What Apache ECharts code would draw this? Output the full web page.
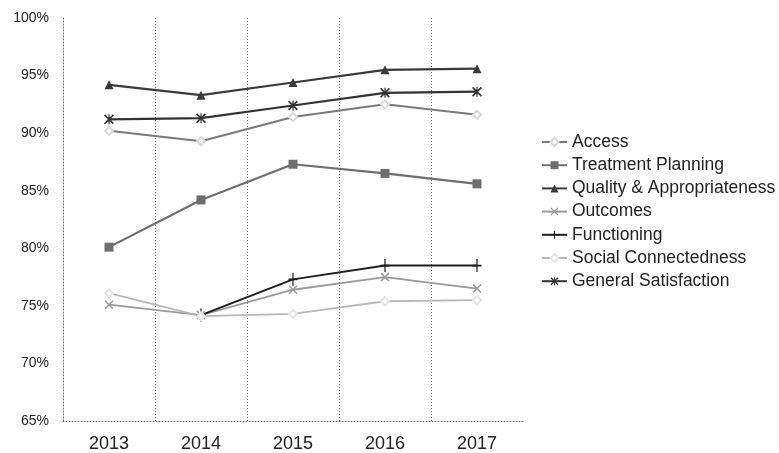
<!DOCTYPE html>
<html>
<head>
<meta charset="utf-8">
<script src="https://cdn.jsdelivr.net/npm/echarts@6/dist/echarts.min.js"></script>
<style>
html,body{margin:0;padding:0;background:#fff;}
#chart{width:779px;height:453px;}
</style>
</head>
<body>
<div id="chart"></div>
<script>
var categories = ['2013', '2014', '2015', '2016', '2017'];
var yTicks = [65, 70, 75, 80, 85, 90, 95, 100];
var access = [90.2, 89.3, 91.4, 92.5, 91.6];
var treatmentPlanning = [80.1, 84.2, 87.3, 86.5, 85.6];
var qualityAppropriateness = [94.2, 93.3, 94.4, 95.5, 95.6];
var outcomes = [75.1, 74.2, 76.4, 77.5, 76.5];
var functioning = [null, 74.2, 77.3, 78.5, 78.5];
var socialConnectedness = [76.1, 74.1, 74.3, 75.4, 75.5];
var generalSatisfaction = [91.2, 91.3, 92.4, 93.5, 93.6];

var X_PATH = 'path://M0,1.2L1.2,0L5,3.8L8.8,0L10,1.2L6.2,5L10,8.8L8.8,10L5,6.2L1.2,10L0,8.8L3.8,5Z';
var PLUS_PATH = 'path://M4.3,0H5.7V4.3H10V5.7H5.7V10H4.3V5.7H0V4.3H4.3Z';
var AST_PATH = 'path://M0,1.2L1.2,0L5,3.8L8.8,0L10,1.2L6.2,5L10,8.8L8.8,10L5,6.2L1.2,10L0,8.8L3.8,5Z M4.4,0H5.6V10H4.4Z';

function mk(name, data, color, symbol, size, lw, extra) {
  var s = {
    name: name,
    type: 'line',
    data: data,
    symbol: symbol,
    symbolSize: size,
    showAllSymbol: true,
    connectNulls: false,
    lineStyle: { color: color, width: lw },
    itemStyle: { color: color, borderColor: color, borderWidth: 0 },
    emphasis: { disabled: true },
    animation: false
  };
  if (extra) { for (var k in extra) s[k] = extra[k]; }
  return s;
}

var dotted = { color: '#666', type: [1, 2], width: 1 };

var chart = echarts.init(document.getElementById('chart'), null, { renderer: 'canvas' });
chart.setOption({
  backgroundColor: '#ffffff',
  animation: false,
  textStyle: { fontFamily: 'Liberation Sans, Arial, sans-serif' },
  grid: { left: 63, right: 256, top: 18, bottom: 32, containLabel: false },
  legend: {
    orient: 'vertical',
    left: 536,
    top: 128,
    itemWidth: 25,
    itemHeight: 10,
    itemGap: 5.2,
    textStyle: { fontSize: 17.5, color: '#222', fontFamily: 'Liberation Sans, Arial, sans-serif', lineHeight: 18 },
    data: ['Access', 'Treatment Planning', 'Quality & Appropriateness', 'Outcomes', 'Functioning', 'Social Connectedness', 'General Satisfaction']
  },
  xAxis: {
    type: 'category',
    data: categories,
    boundaryGap: true,
    axisLine: { show: true, lineStyle: dotted },
    axisTick: { show: false },
    axisLabel: { fontSize: 18, color: '#222', margin: 14, fontFamily: 'Liberation Sans, Arial, sans-serif' },
    splitLine: { show: true, showMinLine: false, showMaxLine: false, lineStyle: dotted }
  },
  yAxis: {
    type: 'value',
    min: yTicks[0],
    max: yTicks[yTicks.length - 1],
    interval: 5,
    axisLine: { show: true, lineStyle: dotted },
    axisTick: { show: false },
    splitLine: { show: false },
    axisLabel: { fontSize: 14, color: '#222', margin: 14, formatter: '{value}%', padding: [0, 0, 5, 0], fontFamily: 'Liberation Sans, Arial, sans-serif' }
  },
  series: [
    mk('Access', access, '#7a7a7a', 'emptyDiamond', 8, 2, { itemStyle: { color: '#d8d8d8', borderColor: '#6a6a6a', borderWidth: 1.5 } }),
    mk('Treatment Planning', treatmentPlanning, '#6e6e6e', 'rect', 9, 2.2),
    mk('Quality & Appropriateness', qualityAppropriateness, '#3a3a3a', 'triangle', 9, 2.2),
    mk('Outcomes', outcomes, '#9a9a9a', X_PATH, 9, 1.8),
    mk('Functioning', functioning, '#1e1e1e', PLUS_PATH, [9, 13], 2),
    mk('Social Connectedness', socialConnectedness, '#b8b8b8', 'emptyDiamond', 8, 1.8, { itemStyle: { color: '#e4e4e4', borderColor: '#a8a8a8', borderWidth: 1.5 } }),
    mk('General Satisfaction', generalSatisfaction, '#333333', AST_PATH, 10, 2.2)
  ]
});
</script>
</body>
</html>
